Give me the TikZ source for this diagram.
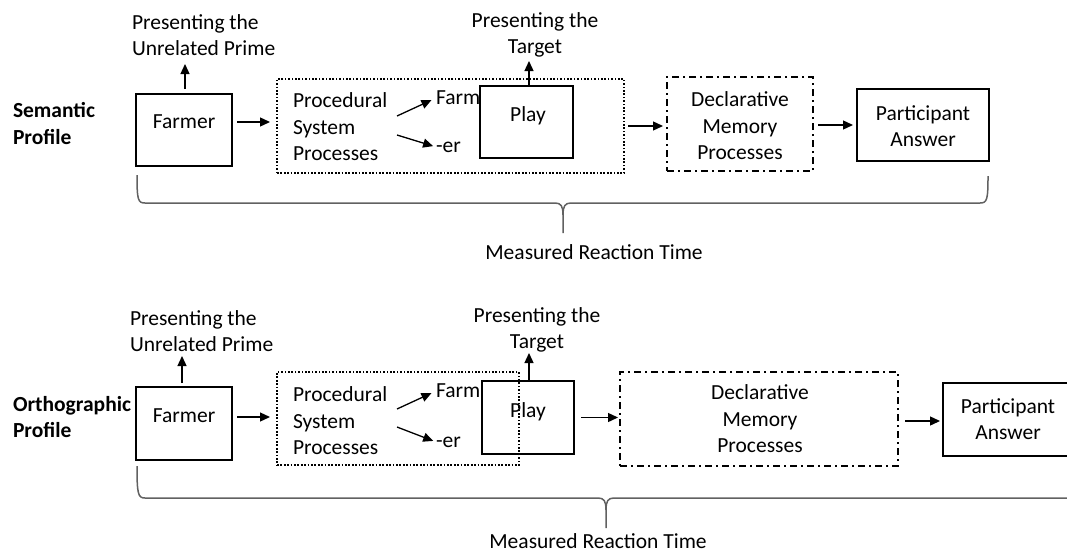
\documentclass[tikz,border=0pt]{standalone}
\usepackage{fontspec}
\setmainfont{Carlito}
\usetikzlibrary{arrows.meta}

\begin{document}
\begin{tikzpicture}[x=1pt,y=-1pt,
  every node/.style={inner sep=0pt, outer sep=0pt, font=\fontsize{21.5}{26.5}\selectfont},
  solidbox/.style={draw, line width=2.5pt},
  dotbox/.style={draw, line width=1.8pt, dash pattern=on 1.7pt off 1.7pt},
  dashdotbox/.style={draw, line width=2pt, dash pattern=on 7pt off 4pt on 2pt off 4pt},
  lbl/.style={align=left, anchor=west},
  ctr/.style={align=center},
  side/.style={align=left, anchor=west, font=\fontsize{21.5}{26.5}\selectfont\bfseries},
  arr/.style={line width=1.3pt, -{Triangle[length=10pt,width=9pt]}},
  brace/.style={draw=black!62, line width=1.5pt}
]
\useasboundingbox (0,0) rectangle (1067,554);

% ---------- Semantic profile ----------
\node[side] (sem) at (13,123.5) {Semantic\\Profile};

\node[solidbox, minimum width=96pt, minimum height=72pt] (f1) at (184,130) {};
\node (f1t) at (184,122) {Farmer};
\node[lbl] (prime1) at (132,35) {Presenting the\\Unrelated Prime};

\node[dotbox, minimum width=347pt, minimum height=94pt] (p1) at (450.5,126) {};
\node[lbl] (p1t) at (293,127) {Procedural\\System\\Processes};
\node[lbl] (farm1) at (436,98) {Farm};
\node[lbl] (er1) at (436,147) {-er};
\coordinate (fs1) at (397,116);
\coordinate (es1) at (397,135);

\node[solidbox, minimum width=93pt, minimum height=72pt] (pl1) at (526.5,122) {};
\node (pl1t) at (528,116) {Play};
\node[ctr] (target1) at (535,35) {Presenting the\\Target};

\node[dashdotbox, minimum width=146pt, minimum height=94pt] (d1) at (740,124) {};
\node[ctr] (d1t) at (740,126) {Declarative\\Memory\\Processes};

\node[solidbox, minimum width=132pt, minimum height=72pt] (a1) at (923,125) {};
\node[ctr] (a1t) at (923,126) {Participant\\Answer};

\draw[arr, shorten <=5pt] ([xshift=1pt]f1.north) -- ++(0,-30);
\draw[arr] ([xshift=2.5pt]pl1.north) -- ++(0,-25);
\draw[arr, shorten <=5pt, shorten >=7pt] ([yshift=8pt]f1.east) -- ([yshift=8pt]f1.east -| p1.west);
\draw[arr, shorten >=5pt] (fs1) -- (farm1.west);
\draw[arr, shorten >=3pt] (es1) -- (er1.west);
\draw[arr, shorten <=4pt, shorten >=4pt] (p1.east) -- (p1.east -| d1.west);
\draw[arr, shorten <=5pt, shorten >=4pt] ([yshift=-1pt]d1.east) -- ([yshift=-1pt]d1.east -| a1.west);

% brace under the first row
\path[brace] (137,175) .. controls (137,200) and (138,203) .. (145,203) -- (555,203)
  .. controls (561,203) and (563,206) .. (563,215) -- (563,233);
\path[brace] (563,215) .. controls (563,206) and (565,203) .. (571,203) -- (980,203)
  .. controls (987,203) and (988,200) .. (988,176);
\node (rt1) at (594,252) {Measured Reaction Time};

% ---------- Orthographic profile ----------
\node[side] (orth) at (13,417) {Orthographic\\Profile};

\node[solidbox, minimum width=96pt, minimum height=73pt] (f2) at (184,423.5) {};
\node (f2t) at (184,416) {Farmer};
\node[lbl] (prime2) at (130,331) {Presenting the\\Unrelated Prime};

\node[dotbox, minimum width=242pt, minimum height=93pt] (p2) at (398,418.5) {};
\node[lbl] (p2t) at (293,421) {Procedural\\System\\Processes};
\node[lbl] (farm2) at (436,391) {Farm};
\node[lbl] (er2) at (436,442) {-er};
\coordinate (fs2) at (397,409);
\coordinate (es2) at (397,427);

\node[solidbox, minimum width=92pt, minimum height=73pt] (pl2) at (528,417.5) {};
\node (pl2t) at (528,412) {Play};
\node[ctr] (target2) at (537,330) {Presenting the\\Target};

\node[dashdotbox, minimum width=278pt, minimum height=94pt] (d2) at (759,419) {};
\node[ctr] (d2t) at (760,419) {Declarative\\Memory\\Processes};

\node[solidbox, minimum width=127pt, minimum height=73pt] (a2) at (1006.5,419.5) {};
\node[ctr] (a2t) at (1008,419) {Participant\\Answer};

\draw[arr, shorten <=4pt] ([xshift=-2pt]f2.north) -- ++(0,-31);
\draw[arr, shorten <=1pt] ([xshift=1pt]pl2.north) -- ++(0,-28);
\draw[arr, shorten <=5pt, shorten >=7pt] ([yshift=6.5pt]f2.east) -- ([yshift=6.5pt]f2.east -| p2.west);
\draw[arr, shorten >=5pt] (fs2) -- (farm2.west);
\draw[arr, shorten >=3pt] (es2) -- (er2.west);
\draw[arr, shorten <=7pt, shorten >=2pt] (pl2.east) -- (pl2.east -| d2.west);
\draw[arr, shorten <=7pt, shorten >=3pt] ([yshift=-2pt]d2.east) -- ([yshift=-2pt]d2.east -| a2.west);

% brace under the second row
\path[brace] (137,466) .. controls (137,494) and (138,498) .. (145,498) -- (598,498)
  .. controls (604,498) and (606,501) .. (606,510) -- (606,528);
\path[brace] (606,510) .. controls (606,501) and (608,498) .. (614,498) -- (1072,498);
\node (rt2) at (598,541) {Measured Reaction Time};
\end{tikzpicture}
\end{document}
